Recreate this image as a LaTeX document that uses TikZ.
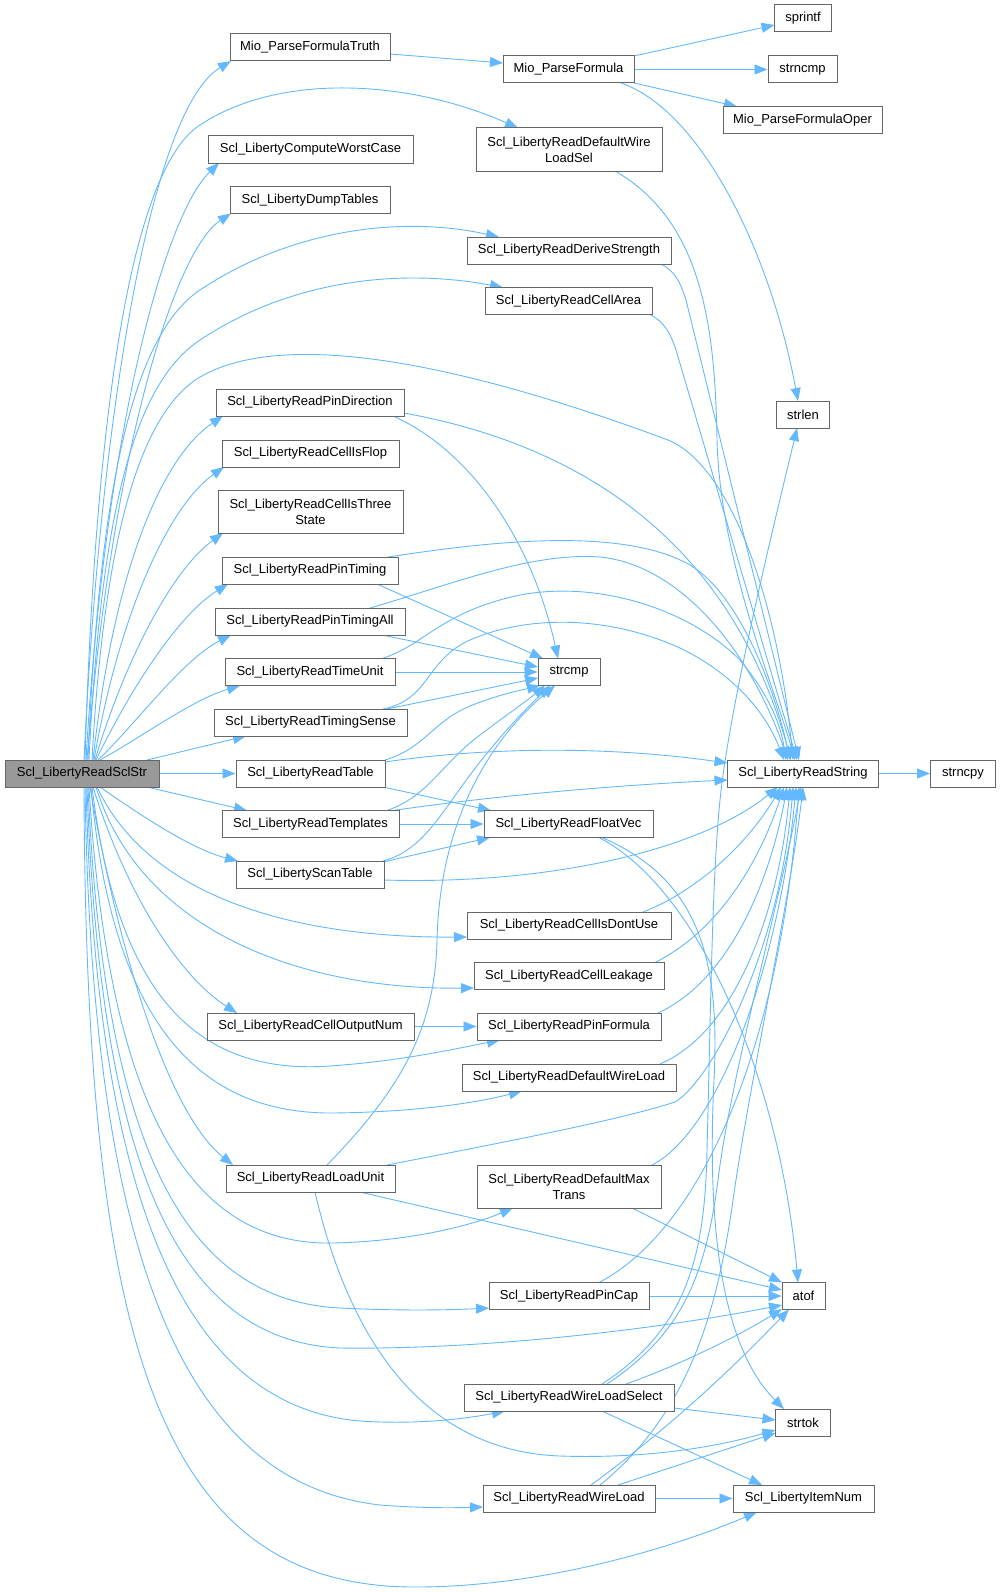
\documentclass[tikz,border=0pt]{standalone}
\usepackage{fontspec}
\setmainfont{Liberation Sans}
\usetikzlibrary{arrows.meta,calc}
\definecolor{edgeblue}{HTML}{63B8FF}
\definecolor{boxgray}{HTML}{666666}
\definecolor{rootgray}{HTML}{999999}
\pgfdeclarelayer{edgelayer}
\pgfsetlayers{edgelayer,main}
\begin{document}
\begin{tikzpicture}[x=1pt,y=-1pt,
  fn/.style={draw=boxgray, line width=1pt, fill=white, rectangle, inner sep=0pt,
    minimum height=27pt, font=\fontsize{13}{16}\selectfont, align=center, text=black},
  fntwo/.style={fn, minimum height=43pt},
  rootfn/.style={fn, fill=rootgray},
  call/.style={draw=edgeblue, line width=0.9pt, -{Triangle[length=13pt,width=10pt]}},
]
\useasboundingbox (0,0) rectangle (1000,1592);
% left column
\node[rootfn, minimum width=154pt] (S) at (82,773.5) {Scl\_LibertyReadSclStr};
\node[fn, minimum width=160pt] (truth) at (310,47.5) {Mio\_ParseFormulaTruth};
\node[fn, minimum width=205pt] (worst) at (310.5,149.5) {Scl\_LibertyComputeWorstCase};
\node[fn, minimum width=160pt] (dump) at (310,200) {Scl\_LibertyDumpTables};
\node[fn, minimum width=188pt] (pindir) at (310,402.5) {Scl\_LibertyReadPinDirection};
\node[fn, minimum width=177pt] (flop) at (310.5,453.5) {Scl\_LibertyReadCellIsFlop};
\node[fntwo, minimum width=185pt] (three) at (310.5,512) {Scl\_LibertyReadCellIsThree\\State};
\node[fn, minimum width=176pt] (pintim) at (310,570.5) {Scl\_LibertyReadPinTiming};
\node[fn, minimum width=190pt] (pintimall) at (310,621.5) {Scl\_LibertyReadPinTimingAll};
\node[fn, minimum width=170pt] (timeunit) at (310,672) {Scl\_LibertyReadTimeUnit};
\node[fn, minimum width=193pt] (timsense) at (310.5,722.5) {Scl\_LibertyReadTimingSense};
\node[fn, minimum width=149pt] (table) at (310.5,773.5) {Scl\_LibertyReadTable};
\node[fn, minimum width=177pt] (templates) at (310.5,824) {Scl\_LibertyReadTemplates};
\node[fn, minimum width=148pt] (scantable) at (310,874.5) {Scl\_LibertyScanTable};
\node[fn, minimum width=207pt] (outnum) at (310.5,1026.5) {Scl\_LibertyReadCellOutputNum};
\node[fn, minimum width=169pt] (loadunit) at (310.5,1178.5) {Scl\_LibertyReadLoadUnit};
% middle column
\node[fn, minimum width=131pt] (mpf) at (568.5,69.5) {Mio\_ParseFormula};
\node[fntwo, minimum width=186pt] (dwls) at (569,149.5) {Scl\_LibertyReadDefaultWire\\LoadSel};
\node[fn, minimum width=204pt] (derive) at (569,250.5) {Scl\_LibertyReadDeriveStrength};
\node[fn, minimum width=167pt] (area) at (568.5,301) {Scl\_LibertyReadCellArea};
\node[fn, minimum width=62pt] (strcmp) at (569,672) {strcmp};
\node[fn, minimum width=169pt] (floatvec) at (568.5,824) {Scl\_LibertyReadFloatVec};
\node[fn, minimum width=204pt] (dontuse) at (569,925.5) {Scl\_LibertyReadCellIsDontUse};
\node[fn, minimum width=190pt] (leakage) at (569,976) {Scl\_LibertyReadCellLeakage};
\node[fn, minimum width=184pt] (pinformula) at (569,1026.5) {Scl\_LibertyReadPinFormula};
\node[fn, minimum width=214pt] (dwl) at (569,1077.5) {Scl\_LibertyReadDefaultWireLoad};
\node[fntwo, minimum width=184pt] (maxtrans) at (569,1186.5) {Scl\_LibertyReadDefaultMax\\Trans};
\node[fn, minimum width=160pt] (pincap) at (569,1296) {Scl\_LibertyReadPinCap};
\node[fn, minimum width=210pt] (wlsel) at (569,1397.5) {Scl\_LibertyReadWireLoadSelect};
\node[fn, minimum width=172pt] (wireload) at (569,1498.5) {Scl\_LibertyReadWireLoad};
% right column
\node[fn, minimum width=57pt] (sprintf) at (803,18.5) {sprintf};
\node[fn, minimum width=69pt] (strncmp) at (802.5,69.5) {strncmp};
\node[fn, minimum width=159pt] (oper) at (802.5,120) {Mio\_ParseFormulaOper};
\node[fn, minimum width=53pt] (strlen) at (803,414.5) {strlen};
\node[fn, minimum width=151pt] (RS) at (803,773.5) {Scl\_LibertyReadString};
\node[fn, minimum width=65pt] (strncpy) at (963,773.5) {strncpy};
\node[fn, minimum width=43pt] (atof) at (803.5,1296) {atof};
\node[fn, minimum width=55pt] (strtok) at (803,1422.5) {strtok};
\node[fn, minimum width=141pt] (itemnum) at (803.5,1498.5) {Scl\_LibertyItemNum};

\begin{pgfonlayer}{edgelayer}
% edges from the root (upwards)
\draw[call] ($(S)+(2,-13.5)$) .. controls (100,420) and (150,110) .. ($(truth)+(-79,13.5)$);
\draw[call] ($(S)+(3,-13.5)$) .. controls (95,420) and (130,170) .. (200,125) .. controls (280,72) and (410,80) .. ($(dwls)+(-51,-21.5)$);
\draw[call] ($(S)+(4,-13.5)$) .. controls (105,430) and (165,215) .. ($(worst)+(-91.5,13.5)$);
\draw[call] ($(S)+(5,-13.5)$) .. controls (112,450) and (175,250) .. ($(dump)+(-79,13.5)$);
\draw[call] ($(S)+(6,-13.5)$) .. controls (100,460) and (140,330) .. (200,290) .. controls (290,230) and (400,215) .. ($(derive)+(-70,-13.5)$);
\draw[call] ($(S)+(7,-13.5)$) .. controls (102,490) and (140,380) .. (200,340) .. controls (290,280) and (400,268) .. ($(area)+(-65.5,-13.5)$);
\draw[call] ($(S)+(10,-13.5)$) .. controls (105,520) and (145,410) .. (200,377) .. controls (290,325) and (480,370) .. (668,440) .. controls (730,465) and (778,600) .. ($(RS)+(-10,-13.5)$);
\draw[call] ($(S)+(11,-13.5)$) .. controls (115,560) and (165,455) .. ($(pindir)+(-87,13.5)$);
\draw[call] ($(S)+(12,-13.5)$) .. controls (120,610) and (170,505) .. ($(flop)+(-86.5,13.5)$);
\draw[call] ($(S)+(13,-13.5)$) .. controls (125,660) and (172,570) .. ($(three)+(-87.5,21)$);
\draw[call] ($(S)+(14,-13.5)$) .. controls (130,690) and (178,615) .. ($(pintim)+(-82,13.5)$);
\draw[call] ($(S)+(16,-13.5)$) .. controls (135,725) and (182,660) .. ($(pintimall)+(-79,13.5)$);
\draw[call] ($(S)+(18,-13.5)$) .. controls (145,735) and (192,700) .. ($(timeunit)+(-70,13.5)$);
\draw[call] ($(S)+(65,-13.5)$) -- ($(timsense)+(-64.5,13.5)$);
\draw[call] (S.east) -- (table.west);
% edges from the root (downwards)
\draw[call] ($(S)+(65,13.5)$) -- ($(templates)+(-63.5,-13.5)$);
\draw[call] ($(S)+(18,13.5)$) .. controls (150,822) and (195,850) .. ($(scantable)+(-72,-13.5)$);
\draw[call] ($(S)+(15,13.5)$) .. controls (150,900) and (300,938) .. ($(dontuse)+(-102,11.5)$);
\draw[call] ($(S)+(14,13.5)$) .. controls (140,930) and (300,990) .. ($(leakage)+(-95,12)$);
\draw[call] ($(S)+(11,13.5)$) .. controls (130,905) and (185,980) .. ($(outnum)+(-73.5,-13.5)$);
\draw[call] ($(S)+(10,13.5)$) .. controls (118,1000) and (200,1075) .. (330,1066) .. controls (400,1061) and (450,1050) .. ($(pinformula)+(-69,13.5)$);
\draw[call] ($(S)+(9,13.5)$) .. controls (112,1025) and (200,1114) .. (333,1113) .. controls (420,1112) and (480,1102) .. ($(dwl)+(-47,13.5)$);
\draw[call] ($(S)+(8,13.5)$) .. controls (120,960) and (170,1115) .. ($(loadunit)+(-77.5,-13.5)$);
\draw[call] ($(S)+(7,13.5)$) .. controls (108,1100) and (185,1246) .. (333,1243) .. controls (420,1241) and (480,1222) .. ($(maxtrans)+(-56,21.5)$);
\draw[call] ($(S)+(6,13.5)$) .. controls (104,1150) and (185,1300) .. (340,1308) .. controls (400,1311) and (450,1310) .. ($(pincap)+(-80,12)$);
\draw[call] ($(S)+(5,13.5)$) .. controls (100,1150) and (170,1340) .. (340,1348) .. controls (500,1350) and (680,1325) .. ($(atof)+(-21.5,9)$);
\draw[call] ($(S)+(4,13.5)$) .. controls (96,1180) and (175,1405) .. (360,1421) .. controls (420,1425) and (470,1418) .. ($(wlsel)+(-64,13.5)$);
\draw[call] ($(S)+(3,13.5)$) .. controls (92,1250) and (180,1482) .. (380,1505) .. controls (420,1508) and (450,1508) .. ($(wireload)+(-86,8.5)$);
\draw[call] ($(S)+(2,13.5)$) .. controls (86,1350) and (160,1590) .. (420,1587) .. controls (550,1586) and (680,1545) .. ($(itemnum)+(-46.5,13.5)$);
% Mio_ParseFormula family
\draw[call] ($(truth)+(80,6.5)$) -- ($(mpf)+(-65.5,-6.5)$);
\draw[call] ($(mpf)+(65.5,-13.5)$) -- ($(sprintf)+(-28.5,6.5)$);
\draw[call] (mpf.east) -- (strncmp.west);
\draw[call] ($(mpf)+(65.5,13.5)$) -- ($(oper)+(-65.5,-13.5)$);
\draw[call] ($(mpf)+(52.5,13.5)$) .. controls (700,110) and (770,250) .. ($(strlen)+(-5,-13.5)$);
% into ReadString from above
\draw[call] ($(dwls)+(46,21.5)$) .. controls (700,220) and (715,320) .. (717,440) .. controls (720,560) and (775,690) .. ($(RS)+(-8,-13.5)$);
\draw[call] ($(derive)+(92,13.5)$) .. controls (676,272) and (680,282) .. (686,300) -- ($(RS)+(-4,-13.5)$);
\draw[call] ($(area)+(81.5,13.5)$) .. controls (664,322) and (670,332) .. (676,350) -- ($(RS)+(-6,-13.5)$);
\draw[call] ($(pindir)+(94,10.5)$) .. controls (580,445) and (730,540) .. ($(RS)+(-12,-13.5)$);
\draw[call] ($(pindir)+(83,13.5)$) .. controls (470,450) and (532,540) .. ($(strcmp)+(-11,-13.5)$);
\draw[call] ($(pintim)+(78,-13.5)$) .. controls (480,543) and (620,525) .. (690,565) .. controls (740,595) and (775,690) .. ($(RS)+(-13,-13.5)$);
\draw[call] ($(pintim)+(67,13.5)$) -- ($(strcmp)+(-26,-13.5)$);
\draw[call] ($(pintimall)+(60,-13.5)$) .. controls (450,585) and (530,552) .. (600,557) .. controls (680,565) and (750,650) .. ($(RS)+(-15,-13.5)$);
\draw[call] ($(pintimall)+(72,13.5)$) -- ($(strcmp)+(-31,-5)$);
\draw[call] ($(timeunit)+(72,-13.5)$) .. controls (425,645) and (440,612) .. (520,595) .. controls (600,580) and (690,610) .. (740,660) .. controls (765,690) and (780,720) .. ($(RS)+(-17,-13.5)$);
\draw[call] (timeunit.east) -- (strcmp.west);
\draw[call] ($(timsense)+(72.5,-13.5)$) .. controls (430,700) and (425,660) .. (470,640) .. controls (520,618) and (600,612) .. (680,648) .. controls (730,672) and (765,710) .. ($(RS)+(-19,-13.5)$);
\draw[call] ($(timsense)+(76.5,-13.5)$) -- ($(strcmp)+(-31,6)$);
% table, templates, scan table
\draw[call] ($(table)+(74.5,-13.5)$) .. controls (425,748) and (432,722) .. (470,706) .. controls (500,694) and (522,690) .. ($(strcmp)+(-29,13.5)$);
\draw[call] ($(table)+(74.5,-11.5)$) .. controls (480,748) and (600,745) .. ($(RS)+(-75.5,-10.5)$);
\draw[call] ($(table)+(72.5,13.5)$) -- ($(floatvec)+(-77.5,-13.5)$);
\draw[call] ($(templates)+(76.5,-13.5)$) .. controls (430,795) and (440,765) .. (480,735) .. controls (505,716) and (528,700) .. ($(strcmp)+(-24,13.5)$);
\draw[call] ($(templates)+(82.5,-13.5)$) .. controls (500,795) and (620,785) .. ($(RS)+(-75.5,6.5)$);
\draw[call] (templates.east) -- (floatvec.west);
\draw[call] ($(scantable)+(73,-13.5)$) .. controls (425,850) and (442,810) .. (480,762) .. controls (505,730) and (530,705) .. ($(strcmp)+(-19,13.5)$);
\draw[call] ($(scantable)+(73,-12.5)$) -- ($(floatvec)+(-78.5,13.5)$);
\draw[call] ($(scantable)+(74,5.5)$) .. controls (550,885) and (700,850) .. ($(RS)+(-25,13.5)$);
% float vec
\draw[call] ($(floatvec)+(30.5,13.5)$) .. controls (700,890) and (780,1080) .. ($(atof)+(-5.5,-13.5)$);
\draw[call] ($(floatvec)+(33.5,13.5)$) .. controls (700,880) and (720,960) .. (714,1080) .. controls (708,1200) and (715,1340) .. ($(strtok)+(-19,-13.5)$);
% into ReadString from below
\draw[call] ($(dontuse)+(74,-13.5)$) .. controls (700,890) and (750,840) .. ($(RS)+(-22,13.5)$);
\draw[call] ($(leakage)+(86,-13.5)$) .. controls (720,930) and (760,860) .. ($(RS)+(-19,13.5)$);
\draw[call] (outnum.east) -- (pinformula.west);
\draw[call] ($(pinformula)+(89,-13.5)$) .. controls (730,980) and (770,880) .. ($(RS)+(-16,13.5)$);
\draw[call] ($(dwl)+(91,-13.5)$) .. controls (740,1030) and (780,900) .. ($(RS)+(-13,13.5)$);
% load unit
\draw[call] ($(loadunit)+(76.5,-13.5)$) .. controls (500,1143) and (620,1120) .. (675,1102) .. controls (712,1080) and (780,950) .. ($(RS)+(-10,13.5)$);
\draw[call] ($(loadunit)+(16.5,-13.5)$) .. controls (400,1090) and (435,1030) .. (437,940) .. controls (440,820) and (490,740) .. ($(strcmp)+(-14,13.5)$);
\draw[call] ($(loadunit)+(49.5,13.5)$) -- ($(atof)+(-21.5,-6)$);
\draw[call] ($(loadunit)+(4.5,13.5)$) .. controls (340,1300) and (400,1450) .. (560,1456) .. controls (650,1459) and (720,1446) .. ($(strtok)+(-27.5,7.5)$);
% max trans, pin cap
\draw[call] ($(maxtrans)+(83,-21.5)$) .. controls (720,1130) and (780,960) .. ($(RS)+(-7,13.5)$);
\draw[call] ($(maxtrans)+(63,21.5)$) -- ($(atof)+(-21.5,-13.5)$);
\draw[call] ($(pincap)+(30,-13.5)$) .. controls (700,1230) and (780,1050) .. ($(RS)+(-4,13.5)$);
\draw[call] (pincap.east) -- (atof.west);
% wire load select
\draw[call] ($(wlsel)+(38,-13.5)$) .. controls (680,1335) and (705,1280) .. (718,1180) .. controls (730,1080) and (780,900) .. ($(RS)+(-2,13.5)$);
\draw[call] ($(wlsel)+(33,-13.5)$) .. controls (685,1330) and (705,1260) .. (707,1150) .. controls (711,1000) and (712,880) .. (720,800) .. controls (730,700) and (780,500) .. ($(strlen)+(-6,13.5)$);
\draw[call] ($(wlsel)+(57,-13.5)$) .. controls (680,1365) and (740,1335) .. ($(atof)+(-21.5,13)$);
\draw[call] ($(wlsel)+(105,10.5)$) -- ($(strtok)+(-27.5,-2.5)$);
\draw[call] ($(wlsel)+(33,13.5)$) -- ($(itemnum)+(-41.5,-13.5)$);
% wire load
\draw[call] ($(wireload)+(31,-13.5)$) .. controls (680,1420) and (715,1330) .. (733,1200) .. controls (750,1080) and (790,900) .. ($(RS)+(0,13.5)$);
\draw[call] ($(wireload)+(22,-13.5)$) .. controls (680,1420) and (740,1360) .. ($(atof)+(-14.5,13.5)$);
\draw[call] ($(wireload)+(49,-13.5)$) -- ($(strtok)+(-27.5,10.5)$);
\draw[call] (wireload.east) -- (itemnum.west);
% read string
\draw[call] (RS.east) -- (strncpy.west);
\end{pgfonlayer}
\end{tikzpicture}
\end{document}
